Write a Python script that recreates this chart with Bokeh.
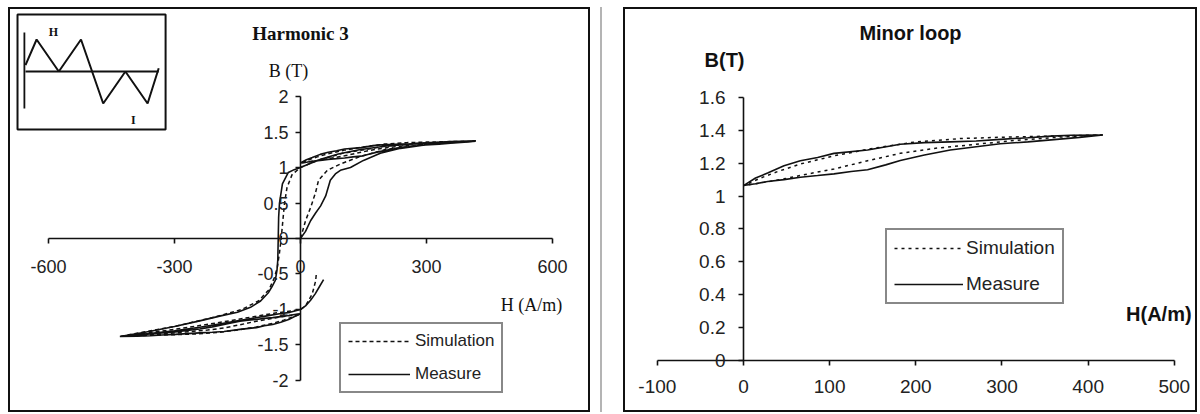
import numpy as np
from bokeh.plotting import figure
from bokeh.models import (LinearAxis, FixedTicker, NumeralTickFormatter, Range1d,
                          Label, Legend, LegendItem, Spacer, Div)
from bokeh.layouts import row, column
from bokeh.embed import file_html
from bokeh.resources import INLINE

# ---------------- data ----------------
# Left panel, measured loop branches (H in A/m, B in T)
meas_init_h = [0, 12, 24, 36, 48, 60, 71, 83, 95, 119, 150, 190, 238, 300, 357, 417]
meas_init_b = [0, 0.1, 0.25, 0.36, 0.46, 0.6, 0.82, 0.91, 0.96, 1.0, 1.1, 1.2, 1.27, 1.32, 1.35, 1.372]

# Upper minor loop, measured (also the right panel)
meas_minor_dec_h = [417, 380, 357, 330, 298, 270, 240, 210, 182, 144, 105, 86, 66, 47, 28, 14, 0]
meas_minor_dec_b = [1.372, 1.37, 1.365, 1.355, 1.345, 1.335, 1.33, 1.325, 1.315, 1.28, 1.26, 1.235,
                    1.215, 1.185, 1.14, 1.11, 1.064]
meas_minor_inc_h = [0, 14, 28, 47, 66, 86, 105, 125, 144, 165, 182, 210, 240, 270, 298, 330, 357, 390, 417]
meas_minor_inc_b = [1.064, 1.075, 1.089, 1.10, 1.115, 1.125, 1.135, 1.15, 1.16, 1.19, 1.217, 1.25,
                    1.28, 1.30, 1.318, 1.33, 1.342, 1.357, 1.372]

meas_desc_h = [417, 350, 280, 200, 140, 90, 50, 20, 0, -15, -29, -43, -50, -52, -53, -54, -56, -60,
               -68, -76, -95, -119, -150, -190, -240, -300, -360, -430]
meas_desc_b = [1.372, 1.36, 1.34, 1.3, 1.25, 1.19, 1.12, 1.05, 1.0, 0.97, 0.93, 0.77, 0.5, 0.3, 0.0,
               -0.3, -0.45, -0.59, -0.68, -0.76, -0.88, -0.97, -1.04, -1.09, -1.16, -1.24, -1.31, -1.38]

meas_lminor_inc_h = [-430, -390, -357, -330, -298, -270, -240, -210, -182, -144, -105, -86, -66, -47,
                     -28, -14, 0]
meas_lminor_inc_b = [-1.38, -1.375, -1.37, -1.36, -1.35, -1.34, -1.33, -1.32, -1.31, -1.28, -1.255,
                     -1.23, -1.21, -1.18, -1.14, -1.10, -1.06]
meas_lminor_dec_h = [0, -14, -28, -47, -66, -86, -105, -125, -144, -165, -182, -210, -240, -270, -298,
                     -330, -357, -390, -430]
meas_lminor_dec_b = [-1.06, -1.07, -1.085, -1.10, -1.115, -1.125, -1.14, -1.15, -1.165, -1.19, -1.21,
                     -1.245, -1.275, -1.295, -1.315, -1.33, -1.345, -1.36, -1.38]

meas_asc_h = [-430, -360, -300, -240, -190, -150, -110, -80, -50, -25, 0, 12, 24, 35, 45, 55]
meas_asc_b = [-1.38, -1.34, -1.3, -1.25, -1.2, -1.16, -1.12, -1.09, -1.06, -1.04, -1.0, -0.95, -0.87,
              -0.78, -0.68, -0.58]

# Simulation branches
sim_init_h = [0, 12, 25, 36, 43, 64, 95, 140, 200, 300, 417]
sim_init_b = [0, 0.25, 0.45, 0.65, 0.82, 0.96, 1.05, 1.15, 1.25, 1.33, 1.372]

sim_minor_dec_h = [417, 357, 300, 252, 200, 150, 105, 66, 40, 20, 0]
sim_minor_dec_b = [1.372, 1.365, 1.358, 1.35, 1.33, 1.29, 1.245, 1.195, 1.15, 1.11, 1.064]
sim_minor_inc_h = [0, 20, 47, 75, 105, 144, 182, 221, 260, 318, 370, 417]
sim_minor_inc_b = [1.064, 1.08, 1.105, 1.135, 1.165, 1.215, 1.26, 1.29, 1.31, 1.34, 1.36, 1.372]

sim_desc_h = [417, 300, 200, 100, 40, 0, -20, -32, -38, -42, -46, -50, -55, -62, -75, -100, -140,
              -200, -300, -430]
sim_desc_b = [1.372, 1.35, 1.3, 1.2, 1.1, 1.0, 0.9, 0.72, 0.5, 0.25, 0.0, -0.2, -0.4, -0.55, -0.72,
              -0.88, -1.0, -1.1, -1.24, -1.38]

sim_lminor_inc_h = [-430, -370, -300, -250, -200, -150, -105, -66, -40, -20, 0]
sim_lminor_inc_b = [-1.38, -1.365, -1.355, -1.345, -1.325, -1.29, -1.245, -1.195, -1.15, -1.11, -1.065]
sim_lminor_dec_h = [0, -20, -47, -75, -105, -144, -182, -221, -260, -318, -370, -430]
sim_lminor_dec_b = [-1.065, -1.08, -1.105, -1.135, -1.165, -1.215, -1.26, -1.29, -1.31, -1.34, -1.36, -1.38]

sim_asc_h = [-430, -300, -200, -120, -60, -20, 0, 12, 28, 36, 38]
sim_asc_b = [-1.38, -1.28, -1.19, -1.11, -1.05, -1.02, -1.0, -0.95, -0.78, -0.6, -0.48]

# Inset: H waveform (harmonic 3) versus time
inset_t = [0, 0.5, 1.5, 2.5, 3.5, 4.5, 5.5, 6.0]
inset_h = [0.2, 1, 0, 1, -1, 0, -1, 0.1]

left_x_ticks = [-600, -300, 0, 300, 600]
left_y_ticks = [-2, -1.5, -1, -0.5, 0, 0.5, 1, 1.5, 2]
right_x_ticks = [-100, 0, 100, 200, 300, 400, 500]
right_y_ticks = [0, 0.2, 0.4, 0.6, 0.8, 1.0, 1.2, 1.4, 1.6]

series_names = ["Simulation", "Measure"]

# ---------------- helpers ----------------
INK = "#111111"
FMT = NumeralTickFormatter(format="0.[0]")


def cat(*arrs):
    return np.concatenate([np.asarray(a, dtype=float) for a in arrs])


def add_axes(p, xb, yb, xt, yt, fs, xstand, ystand):
    xa = LinearAxis(fixed_location=0, bounds=xb, ticker=FixedTicker(ticks=xt), formatter=FMT)
    ya = LinearAxis(fixed_location=0, bounds=yb, ticker=FixedTicker(ticks=yt), formatter=FMT)
    for ax in (xa, ya):
        ax.axis_line_color = INK
        ax.axis_line_width = 1.6
        ax.major_tick_line_color = INK
        ax.major_tick_line_width = 1.6
        ax.major_tick_in = 0
        ax.major_tick_out = 5
        ax.minor_tick_line_color = None
        ax.major_label_text_font = "Liberation Sans"
        ax.major_label_text_font_size = fs
        ax.major_label_text_color = "#222222"
    xa.major_label_standoff = xstand
    ya.major_label_standoff = ystand
    p.add_layout(xa, "below")
    p.add_layout(ya, "left")


def base_fig(w, h, xr, yr):
    p = figure(width=w, height=h, x_range=Range1d(*xr), y_range=Range1d(*yr),
               x_axis_type=None, y_axis_type=None, output_backend="svg",
               toolbar_location=None, min_border=0)
    p.outline_line_color = INK
    p.outline_line_width = 3
    p.background_fill_color = "white"
    p.border_fill_color = "white"
    return p


H = 405

# ---------------- left panel ----------------
p1 = base_fig(582, H, (-695.2, 690.5), (-2.451, 3.254))
p1.extra_x_ranges = {"it": Range1d(-0.766, 25.45)}
p1.extra_y_ranges = {"ih": Range1d(-10.656, 2.0)}
add_axes(p1, (-600, 600), (-2, 2), left_x_ticks, left_y_ticks, "18px", 16, 7)

meas_h = cat(meas_init_h, meas_minor_dec_h, meas_minor_inc_h, meas_desc_h,
             meas_lminor_inc_h, meas_lminor_dec_h, meas_asc_h)
meas_b = cat(meas_init_b, meas_minor_dec_b, meas_minor_inc_b, meas_desc_b,
             meas_lminor_inc_b, meas_lminor_dec_b, meas_asc_b)
sim_h = cat(sim_init_h, sim_minor_dec_h, sim_minor_inc_h, sim_desc_h,
            sim_lminor_inc_h, sim_lminor_dec_h, sim_asc_h)
sim_b = cat(sim_init_b, sim_minor_dec_b, sim_minor_inc_b, sim_desc_b,
            sim_lminor_inc_b, sim_lminor_dec_b, sim_asc_b)

r_sim1 = p1.line(sim_h, sim_b, line_color=INK, line_width=1.5, line_dash="4 3")
r_meas1 = p1.line(meas_h, meas_b, line_color=INK, line_width=1.6)

# inset
p1.quad(left=-0.36, right=6.31, top=1.78, bottom=-1.81, fill_color="white",
        line_color=INK, line_width=2, x_range_name="it", y_range_name="ih")
p1.segment(x0=[-0.05, 0.0], y0=[1.22, 0.0], x1=[-0.05, 6.0], y1=[-1.16, 0.0],
           line_color=INK, line_width=1.8, x_range_name="it", y_range_name="ih")
p1.line(inset_t, inset_h, line_color=INK, line_width=2, x_range_name="it", y_range_name="ih")
for txt, tx, ty in (("H", 1.26, 1.22), ("I", 4.86, -1.53)):
    p1.add_layout(Label(x=tx, y=ty, text=txt, x_range_name="it", y_range_name="ih",
                        text_font="Liberation Serif", text_font_style="bold",
                        text_font_size="12px", text_color=INK,
                        text_align="center", text_baseline="middle"))

p1.add_layout(Label(x=0, y=2.89, text="Harmonic 3", text_font="Liberation Serif",
                    text_font_style="bold", text_font_size="19px", text_color=INK,
                    text_align="center", text_baseline="middle"))
p1.add_layout(Label(x=-28.6, y=2.366, text="B (T)", text_font="Liberation Serif",
                    text_font_size="18px", text_color=INK,
                    text_align="center", text_baseline="middle"))
p1.add_layout(Label(x=550, y=-0.93, text="H (A/m)", text_font="Liberation Serif",
                    text_font_size="18px", text_color=INK,
                    text_align="center", text_baseline="middle"))

leg1 = Legend(items=[LegendItem(label=series_names[0], renderers=[r_sim1]),
                     LegendItem(label=series_names[1], renderers=[r_meas1])],
              location=(331, 19), margin=0, padding=7, spacing=13,
              glyph_width=62, glyph_height=20, label_height=20, label_standoff=5,
              label_text_font="Liberation Sans", label_text_font_size="17px",
              label_text_color="#222222",
              border_line_color=INK, border_line_width=2, background_fill_alpha=1)
p1.add_layout(leg1, "center")

# ---------------- right panel ----------------
p2 = base_fig(574, H, (-139.26, 526.9), (-0.316, 2.147))
add_axes(p2, (-100, 500), (0, 1.6), right_x_ticks, right_y_ticks, "19px", 14, 13)

r_sim2 = p2.line(cat(sim_minor_dec_h, sim_minor_inc_h), cat(sim_minor_dec_b, sim_minor_inc_b),
                 line_color=INK, line_width=1.5, line_dash="3 4")
r_meas2 = p2.line(cat(meas_minor_dec_h, meas_minor_inc_h), cat(meas_minor_dec_b, meas_minor_inc_b),
                  line_color=INK, line_width=1.6)

p2.add_layout(Label(x=193.8, y=1.989, text="Minor loop", text_font="Liberation Sans",
                    text_font_style="bold", text_font_size="20px", text_color=INK,
                    text_align="center", text_baseline="middle"))
p2.add_layout(Label(x=-22, y=1.825, text="B(T)", text_font="Liberation Sans",
                    text_font_style="bold", text_font_size="20px", text_color=INK,
                    text_align="center", text_baseline="middle"))
p2.add_layout(Label(x=482, y=0.28, text="H(A/m)", text_font="Liberation Sans",
                    text_font_style="bold", text_font_size="20px", text_color=INK,
                    text_align="center", text_baseline="middle"))

leg2 = Legend(items=[LegendItem(label=series_names[0], renderers=[r_sim2]),
                     LegendItem(label=series_names[1], renderers=[r_meas2])],
              location=(262, 108), margin=0, padding=7, spacing=14,
              glyph_width=69, glyph_height=20, label_height=20, label_standoff=3,
              label_text_font="Liberation Sans", label_text_font_size="19px",
              label_text_color="#222222",
              border_line_color=INK, border_line_width=2, background_fill_alpha=1)
p2.add_layout(leg2, "center")

sep = Div(text="", width=2, height=H, margin=0, styles={"background-color": "#b4b4b4"})
panels = row(Spacer(width=8, height=H), p1, Spacer(width=10, height=H), sep,
             Spacer(width=21, height=H), p2)
layout = column(Spacer(width=10, height=7), panels)

open("out.html", "w").write(file_html(layout, INLINE))
